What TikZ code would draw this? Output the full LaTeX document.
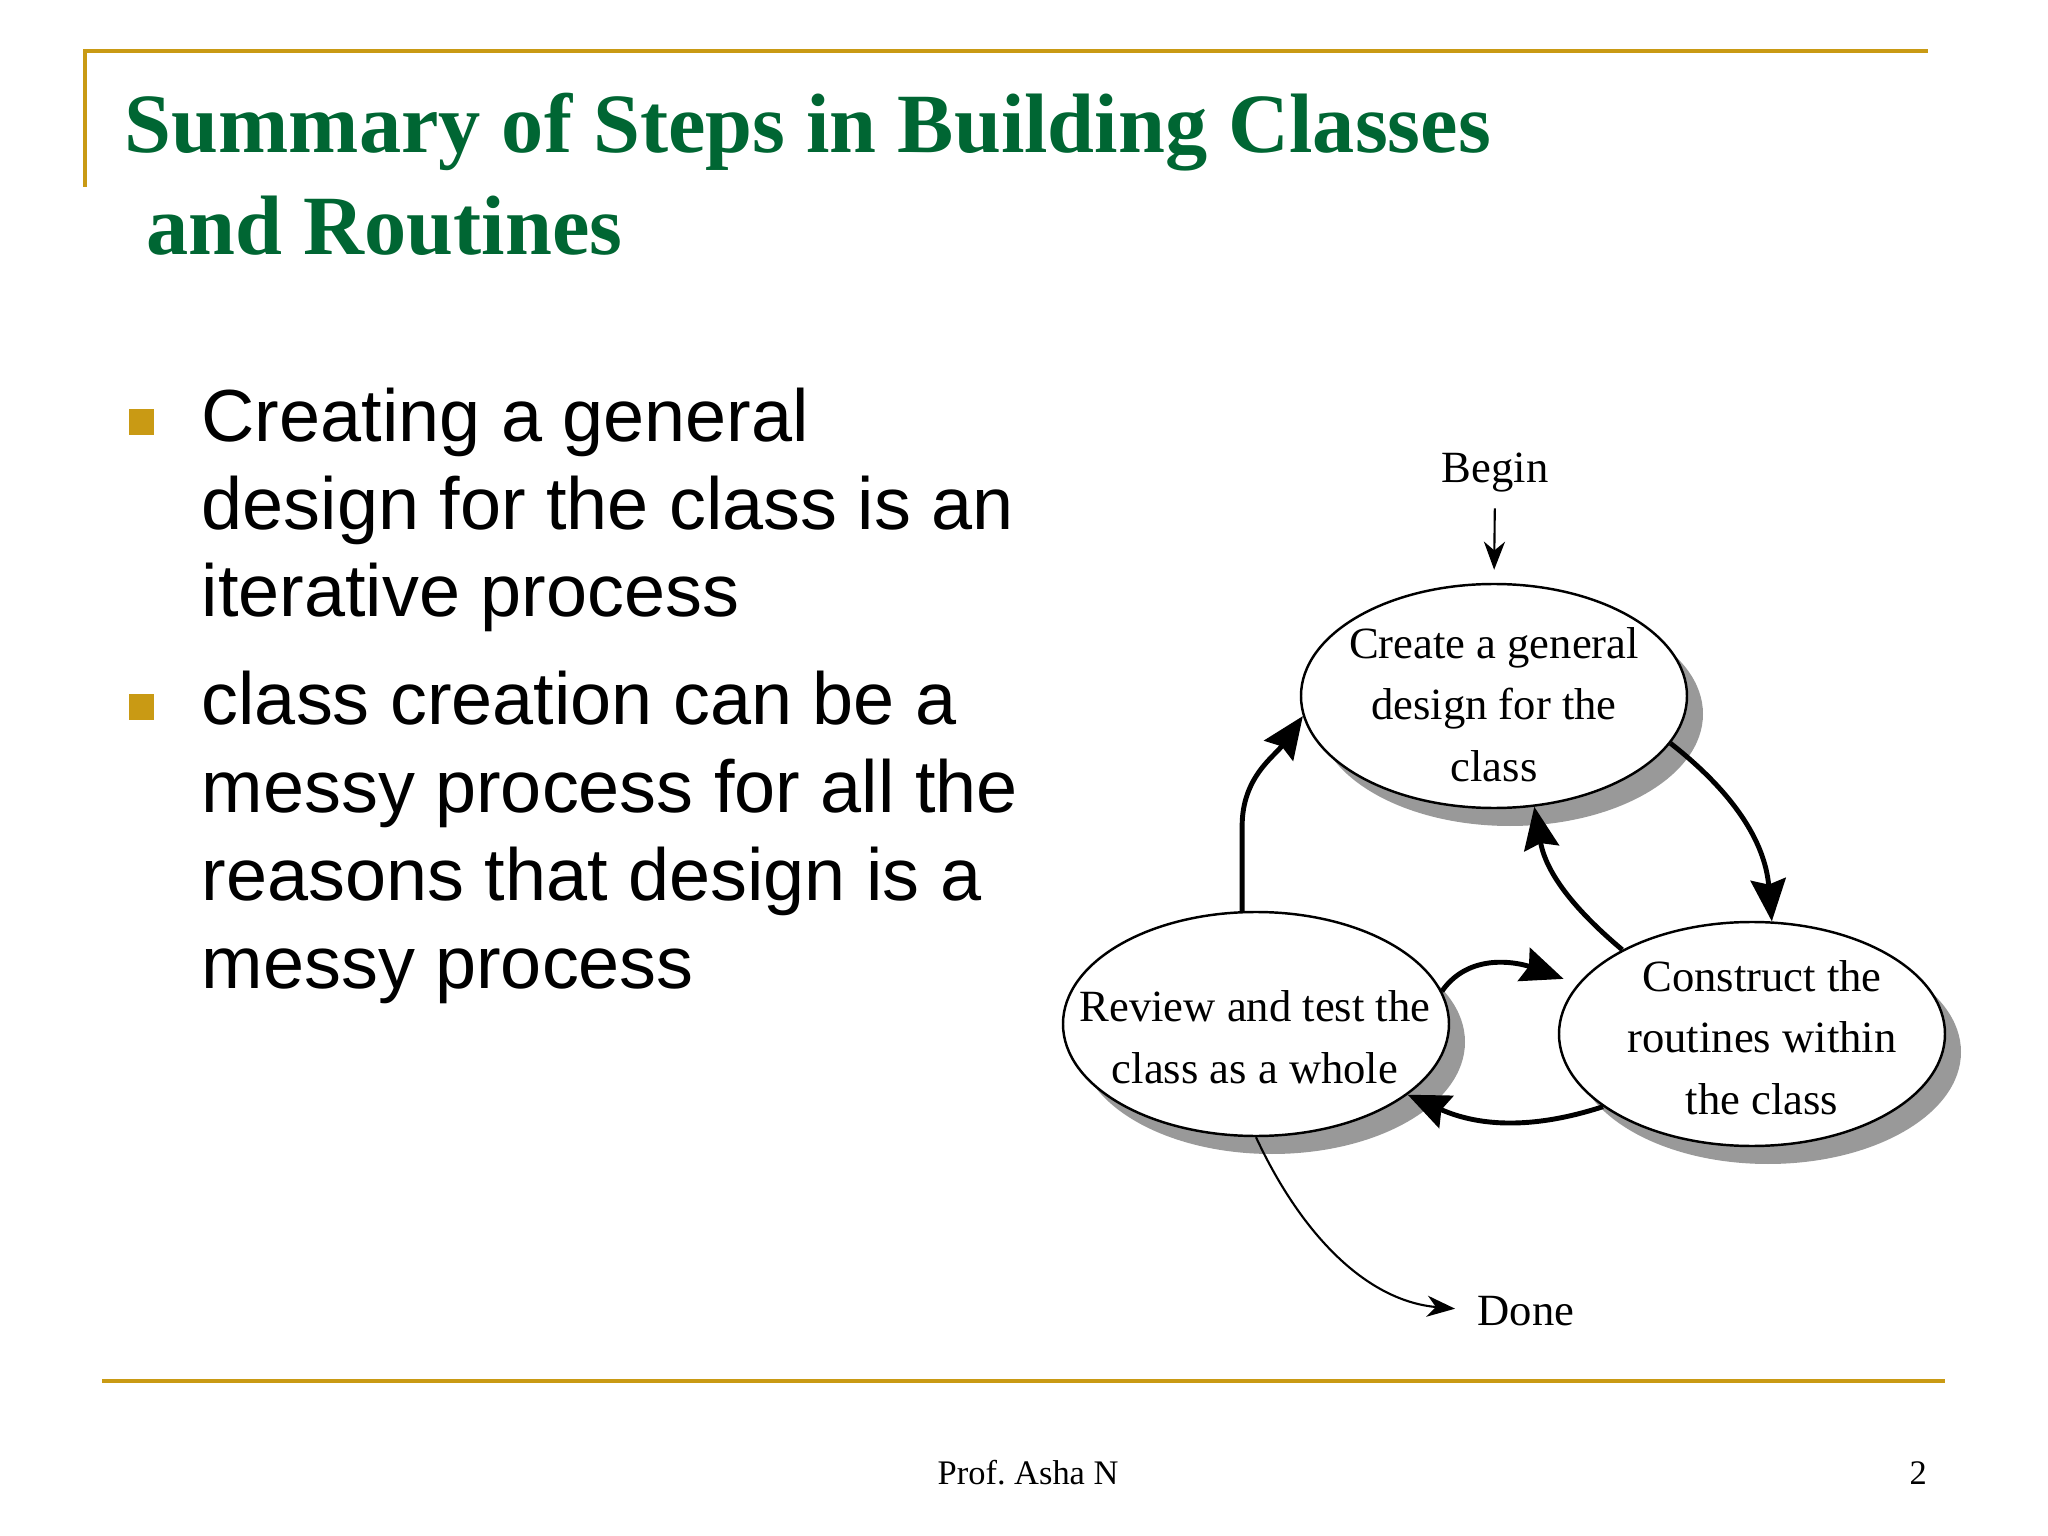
\documentclass[tikz,border=0pt]{standalone}
\usepackage{fontspec}
\setmainfont{Liberation Serif}
\setsansfont{Liberation Sans}
\definecolor{slidegold}{RGB}{201,154,20}
\definecolor{slidegreen}{RGB}{0,102,51}
\colorlet{shadegray}{black!40}
\usetikzlibrary{arrows.meta, shapes.geometric, shadows}
\frenchspacing

\begin{document}
\begin{tikzpicture}[
  stepell/.style={ellipse, draw=black, line width=0.7pt, fill=white,
    minimum width=3.86cm, minimum height=2.24cm, inner sep=0pt,
    drop shadow={shadow xshift=0.16cm, shadow yshift=-0.18cm,
      fill=shadegray, opacity=1}},
  steptxt/.style={align=center, inner sep=0pt,
    font=\fontsize{12.7pt}{17.5pt}\selectfont},
  bigarw/.style={-{Stealth[length=12pt, width=10pt, inset=1.5pt]}, line width=1.4pt},
  thinarw/.style={-{Stealth[length=8pt, width=6pt, inset=2.5pt]}, line width=0.6pt},
  bul/.style={fill=slidegold, minimum size=0.26cm, inner sep=0pt},
  bultxt/.style={anchor=base west, align=left, inner sep=0pt,
    font=\sffamily\fontsize{21pt}{25pt}\selectfont},
  ttl/.style={anchor=base west, inner sep=0pt, text=slidegreen,
    font=\bfseries\fontsize{24pt}{28pt}\selectfont},
  foot/.style={anchor=base west, inner sep=0pt,
    font=\fontsize{9.8pt}{12pt}\selectfont},
]
\useasboundingbox (0,0) rectangle (20.48,-15.36);
\fill[white] (0,0) rectangle (20.48,-15.36);
\draw[slidegold, line width=1.1pt] (0.85,-1.87) -- (0.85,-0.51) -- (19.28,-0.51);
\draw[slidegold, line width=1.1pt] (1.02,-13.81) -- (19.45,-13.81);

\node[ttl] (title1) at (1.24,-1.53) {Summary of Steps in Building Classes};
\node[ttl] (title2) at (1.46,-2.55) {and Routines};

\node[bul] (b1) at (1.415,-4.22) {};
\node[bultxt] (t1) at (2.01,-6.17)
  {Creating a general\\design for the class is an\\iterative process};
\node[bul] (b2) at (1.415,-7.075) {};
\node[bultxt] (t2) at (2.01,-9.88)
  {class creation can be a\\messy process for all the\\reasons that design is a\\messy process};

\node[stepell] (create) at (14.94,-6.96) {};
\node[stepell] (review) at (12.56,-10.24) {};
\node[stepell] (construct) at (17.52,-10.34) {};
\node[steptxt] (createtxt) at (14.94,-7.045) {Create a general\\design for the\\class};
\node[steptxt] (reviewtxt) at (12.55,-10.37) {Review and test the\\class as a whole};
\node[steptxt] (constructtxt) at (17.62,-10.375) {Construct the\\routines within\\the class};
\node[steptxt, anchor=base] (begin) at (14.95,-4.82) {Begin};
\node[steptxt, anchor=base west] (done) at (14.77,-13.25) {Done};

\draw[thinarw, shorten <=0.16cm, shorten >=0.13cm] (begin.south) -- (create.north);
\draw[thinarw, shorten >=0.22cm] (review.south) to[out=-65, in=175] (done.west);
\draw[bigarw] (review.97) -- ++(0,0.85) to[out=90, in=235] (create.186);
\draw[bigarw] (create.-15) to[out=-38, in=95] (construct.80);
\draw[bigarw] (construct.147) to[out=140, in=-80] (create.-70);
\draw[bigarw, shorten >=0.15cm] (review.10) to[out=55, in=160] (construct.164);
\draw[bigarw] (construct.206) to[out=198, in=-24] (review.-25);

\node[foot] (author) at (9.37,-14.84) {Prof. Asha N};
\node[foot] (pagenum) at (19.09,-14.84) {2};
\end{tikzpicture}
\end{document}
